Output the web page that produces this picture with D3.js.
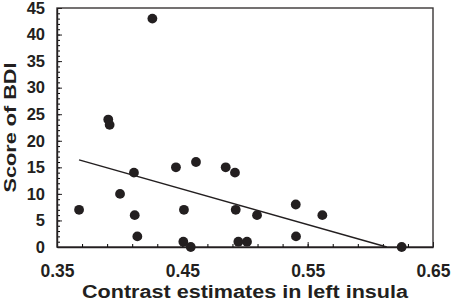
<!DOCTYPE html>
<html>
<head>
<meta charset="utf-8">
<script src="https://cdn.jsdelivr.net/npm/d3@7"></script>
<style>
  body { margin: 0; background: #fff; }
  svg text { font-family: "Liberation Sans", Arial, sans-serif; font-weight: bold; fill: #231f20; }
</style>
</head>
<body>
<div id="chart"></div>
<script>
// Data
const contrast = [0.3676, 0.3909, 0.3920, 0.4261, 0.4003, 0.4114, 0.4120, 0.4141,
                  0.4449, 0.4609, 0.4846, 0.4920, 0.4513, 0.4926, 0.5096, 0.4508,
                  0.4567, 0.4947, 0.5016, 0.5405, 0.5617, 0.5407, 0.6250];
const bdi = [7, 24, 23, 43, 10, 14, 6, 2,
             15, 16, 15, 14, 7, 7, 6, 1,
             0, 1, 1, 8, 6, 2, 0];
// fitted line endpoints
const fitX = [0.3676, 0.6131];
const fitY = [16.4, 0];

const xTicks = [0.35, 0.45, 0.55, 0.65];
const yTicks = [0, 5, 10, 15, 20, 25, 30, 35, 40, 45];

const W = 454, H = 301;
const plot = {left: 57, right: 433, top: 8, bottom: 247};

const svg = d3.select("#chart").append("svg")
    .attr("width", W)
    .attr("height", H);

const x = d3.scaleLinear().domain([0.35, 0.65]).range([plot.left, plot.right]);
const y = d3.scaleLinear().domain([0, 45]).range([plot.bottom, plot.top]);

// frame
svg.append("rect")
    .attr("x", plot.left).attr("y", plot.top)
    .attr("width", plot.right - plot.left).attr("height", plot.bottom - plot.top)
    .attr("fill", "none")
    .attr("stroke", "#3a3636")
    .attr("stroke-width", 1.4);

// minor ticks
svg.append("g")
    .attr("transform", `translate(${plot.left},0)`)
    .call(d3.axisLeft(y).tickValues(d3.range(0, 46)).tickSize(-3).tickFormat(""))
    .call(g => g.select(".domain").remove());
svg.append("g")
    .attr("transform", `translate(0,${plot.bottom})`)
    .call(d3.axisBottom(x).tickValues(d3.range(0, 15).map(i => 0.35 + i * 0.02)).tickSize(-3).tickFormat(""))
    .call(g => g.select(".domain").remove());

// major axes
const yAxis = svg.append("g")
    .attr("transform", `translate(${plot.left},0)`)
    .call(d3.axisLeft(y).tickValues(yTicks).tickSizeInner(-5).tickSizeOuter(0).tickPadding(12));
const xAxis = svg.append("g")
    .attr("transform", `translate(0,${plot.bottom})`)
    .call(d3.axisBottom(x).tickValues(xTicks).tickSizeInner(-5).tickSizeOuter(0).tickPadding(18)
        .tickFormat(d3.format(".2f")));

yAxis.selectAll("text").style("font-size", "16.5px");
xAxis.selectAll("text").style("font-size", "17.5px");
[xAxis, yAxis].forEach(g => {
    g.selectAll("text").attr("fill", "#231f20");
    g.selectAll("line").attr("stroke", "#231f20");
    g.select(".domain").attr("stroke", "#231f20").attr("stroke-width", 1.4);
});

// regression line
svg.append("path")
    .datum(fitX.map((v, i) => [v, fitY[i]]))
    .attr("fill", "none")
    .attr("stroke", "#231f20")
    .attr("stroke-width", 1.5)
    .attr("d", d3.line().x(d => x(d[0])).y(d => y(d[1])));

// points
svg.selectAll("circle.pt")
    .data(contrast.map((v, i) => ({c: v, b: bdi[i]})))
    .enter()
    .append("circle")
    .attr("class", "pt")
    .attr("cx", d => x(d.c))
    .attr("cy", d => y(d.b))
    .attr("r", 4.9)
    .attr("fill", "#231f20");

// axis titles
svg.append("text")
    .attr("x", (plot.left + plot.right) / 2)
    .attr("y", 298)
    .attr("text-anchor", "middle")
    .attr("textLength", 326)
    .attr("lengthAdjust", "spacingAndGlyphs")
    .style("font-size", "18px")
    .text("Contrast estimates in left insula");

svg.append("text")
    .attr("transform", `translate(16,${(plot.top + plot.bottom) / 2}) rotate(-90)`)
    .attr("text-anchor", "middle")
    .attr("textLength", 130)
    .attr("lengthAdjust", "spacingAndGlyphs")
    .style("font-size", "17px")
    .text("Score of BDI");
</script>
</body>
</html>
